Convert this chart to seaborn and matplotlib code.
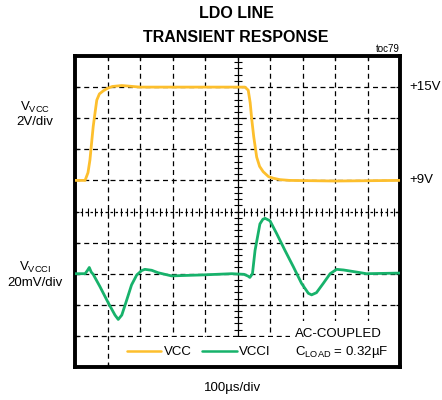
import numpy as np
import pandas as pd
import matplotlib
matplotlib.use("Agg")
import matplotlib.pyplot as plt
from matplotlib.patches import Rectangle
import seaborn as sns

# VCC step, time in us, volts
vcc_t = [0, 31, 40, 46, 51, 56, 62, 67, 75, 87, 100, 115, 144, 200, 300, 400, 500,
         523, 533, 539, 544, 550, 559, 568, 579, 595, 610, 630, 660, 800, 1000]
vcc_v = [9.0, 9.0, 9.5, 10.32, 11.4, 12.46, 13.4, 14.16, 14.56, 14.76, 14.92, 15.04, 15.1, 15.0, 15.0, 15.0, 15.0,
         15.0, 14.8, 14.0, 12.9, 11.8, 10.5, 9.9, 9.56, 9.25, 9.14, 9.05, 9.0, 8.96, 9.0]

# VCCI, AC-coupled, time in us, mV
vcci_t = [0, 31, 38, 44, 50, 56, 77, 103, 123, 133, 144, 159, 174, 190, 205, 215, 236, 256, 297,
          390, 482, 520, 533, 538, 546, 554, 569, 578, 585, 600, 620, 646, 672, 697, 718, 728, 743, 764,
          785, 805, 826, 856, 897, 1000]
vcci_mv = [0, 0, 2, 4, 1, -0.4, -8.4, -19, -26.6, -29.4, -26.6, -17, -7.2, -0.8, 2.0, 2.8, 2.2, 0.6, -1.4,
           -0.8, 0, -0.4, -1.6, -2.4, 0, 15, 32, 35, 35.6, 34, 26, 15, 4.4, -6.2, -12.6, -13.6, -12.2, -6.2,
           0, 2.8, 2.4, 1.4, 0, 0.4]

trace_names = ["VCC", "VCCI"]
trace_colors = ["#FDBF2D", "#17B26B"]

# scope screen settings
us_per_div = 100
vcc_v_per_div = 2
vcc_ref = 9.0      # +9V line
vcc_ref_div = 6
vcci_mv_per_div = 20
vcci_ref_div = 3

sns.set_theme(style="white")
plt.rcParams['font.family'] = ['Liberation Sans', 'DejaVu Sans']
plt.rcParams['mathtext.fontset'] = 'custom'
plt.rcParams['mathtext.rm'] = 'Liberation Sans'
plt.rcParams['text.color'] = 'black'

df = pd.concat([
    pd.DataFrame({"t": np.array(vcc_t) / us_per_div,
                  "y": vcc_ref_div + (np.array(vcc_v) - vcc_ref) / vcc_v_per_div,
                  "trace": trace_names[0]}),
    pd.DataFrame({"t": np.array(vcci_t) / us_per_div,
                  "y": vcci_ref_div + np.array(vcci_mv) / vcci_mv_per_div,
                  "trace": trace_names[1]}),
])

fig = plt.figure(figsize=(4.42, 4.0), dpi=100)
ax = fig.add_axes([75 / 442, 33 / 400, 325 / 442, 311 / 400])

# dashed grid
for i in range(1, 10):
    if i != 5:
        ax.axvline(i, color="black", lw=0.9, ls=(0, (4, 3)), zorder=1)
        ax.axhline(i, color="black", lw=0.9, ls=(0, (4, 3)), zorder=1)
ax.axvline(5, color="black", lw=0.9, zorder=1)
ax.axhline(5, color="black", lw=0.9, ls=(0, (2, 2)), zorder=1)
minor = np.arange(0, 10.01, 0.2)
ax.plot(minor, np.full_like(minor, 5), ls="none", marker="|", ms=6, mew=0.8, color="black", zorder=1)
ax.plot(np.full_like(minor, 5), minor, ls="none", marker="_", ms=6, mew=0.8, color="black", zorder=1)

# white patches behind legend and notes
ax.add_patch(Rectangle((1.85, 0), 8.15, 0.95, facecolor="white", edgecolor="none", zorder=2))
ax.add_patch(Rectangle((6.62, 0), 3.38, 1.48, facecolor="white", edgecolor="none", zorder=2))

sns.lineplot(data=df, x="t", y="y", hue="trace", palette=trace_colors,
             lw=2, ax=ax, sort=False, zorder=3)

ax.set_xlim(0, 10)
ax.set_ylim(0, 10)
ax.set_xticks(range(1, 10))
ax.set_yticks(range(1, 10))
ax.tick_params(axis="both", which="both", direction="in", length=3, width=0.9, color="black",
               bottom=True, top=True, left=True, right=True,
               labelbottom=False, labelleft=False)
ax.set_xlabel("")
ax.set_ylabel("")
for s in ax.spines.values():
    s.set_visible(True)
    s.set_color("black")
    s.set_linewidth(2.8)

ax.get_legend().remove()
ax.legend(handles=ax.get_lines()[-2:], labels=trace_names, ncol=2, frameon=False,
          loc="center", bbox_to_anchor=((199 - 75) / 325, (367 - 352) / 311),
          fontsize=9.5, handlelength=2.6, handletextpad=0.2, columnspacing=0.8,
          borderpad=0, borderaxespad=0)
for h in ax.get_legend().get_lines():
    h.set_linewidth(1.8)

fs = 9.5
fig.text(236 / 442, 1 - 14 / 400, "LDO LINE", ha="center", va="center", fontsize=11.5,
         fontweight="bold")
fig.text(236 / 442, 1 - 37 / 400, "TRANSIENT RESPONSE", ha="center", va="center", fontsize=11.5,
         fontweight="bold")
fig.text(400 / 442, 1 - 49 / 400, "toc79", ha="right", va="center", fontsize=7)
fig.text(409 / 442, 1 - 87 / 400, "+15V", ha="left", va="center", fontsize=fs)
fig.text(409 / 442, 1 - 180 / 400, "+9V", ha="left", va="center", fontsize=fs)
fig.text(35 / 442, 1 - 107 / 400, r"V$_{\mathregular{VCC}}$", ha="center", va="center", fontsize=fs)
fig.text(35 / 442, 1 - 122 / 400, "2V/div", ha="center", va="center", fontsize=fs)
fig.text(35 / 442, 1 - 267 / 400, r"V$_{\mathregular{VCCI}}$", ha="center", va="center", fontsize=fs)
fig.text(35 / 442, 1 - 283 / 400, "20mV/div", ha="center", va="center", fontsize=fs)
fig.text(233 / 442, 1 - 388 / 400, "100µs/div", ha="center", va="center", fontsize=fs)
fig.text(295 / 442, 1 - 334 / 400, "AC-COUPLED", ha="left", va="center", fontsize=fs)
fig.text(295 / 442, 1 - 352 / 400, r"C$_{\mathregular{LOAD}}$ = 0.32µF", ha="left", va="center", fontsize=fs)

fig.savefig("out.png", dpi=100, facecolor="white")
